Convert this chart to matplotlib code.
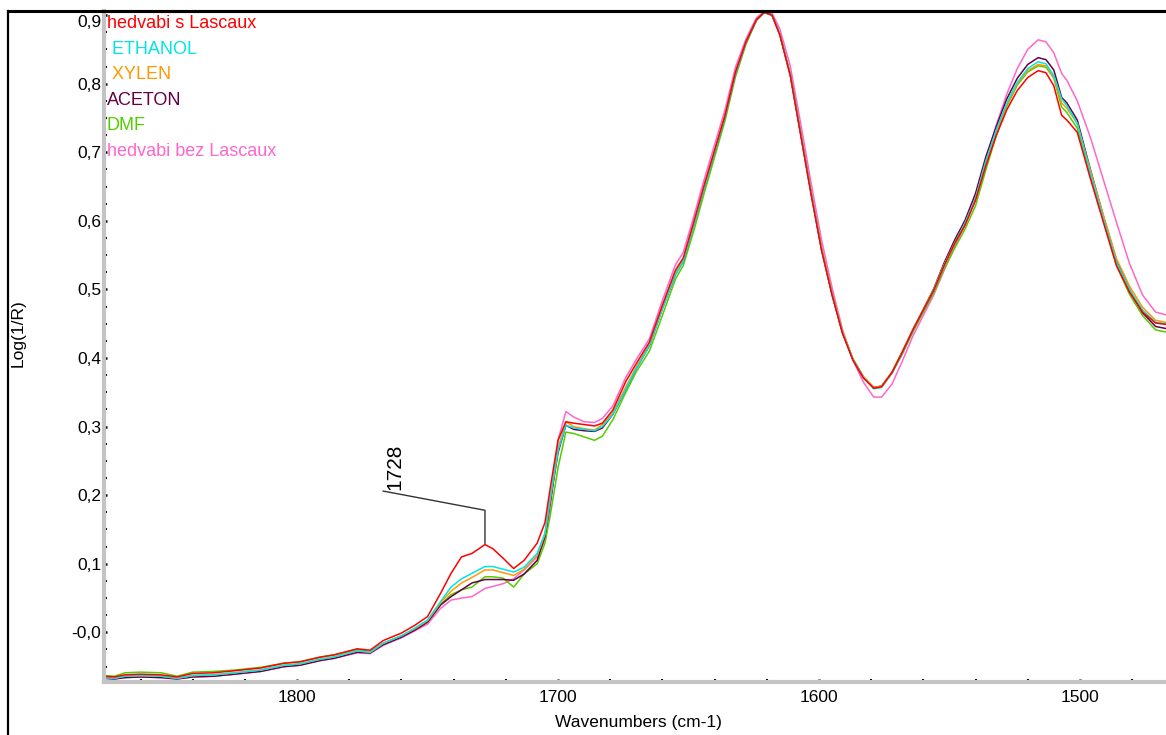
import matplotlib

matplotlib.use("Agg")
import matplotlib.pyplot as plt
from matplotlib.lines import Line2D
from matplotlib.ticker import FuncFormatter, MultipleLocator

plt.rcParams["font.family"] = ["Liberation Sans", "DejaVu Sans"]

# wavenumbers (cm-1), shared by all spectra
wavenumbers = [
    1874, 1870, 1866, 1860, 1852, 1846, 1840, 1832, 1824, 1814,
    1805, 1799, 1791, 1786, 1777, 1772, 1767, 1760, 1755, 1750,
    1745, 1741, 1737, 1733, 1728, 1725, 1721, 1717, 1713, 1708,
    1705, 1703, 1700, 1697, 1694, 1690, 1686, 1683, 1679, 1674,
    1670, 1665, 1660, 1655, 1652, 1648, 1644, 1640, 1636, 1632,
    1628, 1624, 1621, 1618, 1615, 1611, 1607, 1603, 1599, 1595,
    1591, 1587, 1583, 1579, 1576, 1572, 1568, 1564, 1560, 1556,
    1552, 1548, 1544, 1540, 1536, 1532, 1528, 1524, 1520, 1516,
    1513, 1510, 1507, 1505, 1501, 1496, 1491, 1486, 1481, 1476,
    1471, 1467,
]

hedvabi_s_lascaux = [
    -0.064, -0.065, -0.062, -0.061, -0.062, -0.065, -0.060, -0.059, -0.056, -0.052,
    -0.045, -0.043, -0.036, -0.033, -0.024, -0.026, -0.012, -0.001, 0.010, 0.023,
    0.057, 0.086, 0.110, 0.115, 0.128, 0.122, 0.108, 0.093, 0.105, 0.130,
    0.160, 0.210, 0.280, 0.307, 0.305, 0.303, 0.301, 0.305, 0.324, 0.366,
    0.392, 0.423, 0.477, 0.528, 0.546, 0.598, 0.652, 0.703, 0.754, 0.817,
    0.861, 0.893, 0.904, 0.900, 0.871, 0.812, 0.725, 0.638, 0.557, 0.492,
    0.436, 0.397, 0.371, 0.356, 0.358, 0.379, 0.409, 0.441, 0.470, 0.499,
    0.535, 0.567, 0.594, 0.630, 0.681, 0.725, 0.762, 0.790, 0.809, 0.819,
    0.816, 0.797, 0.754, 0.747, 0.729, 0.662, 0.598, 0.535, 0.496, 0.467,
    0.451, 0.449,
]

ethanol = [
    -0.066, -0.067, -0.064, -0.063, -0.064, -0.067, -0.063, -0.062, -0.059, -0.055,
    -0.048, -0.046, -0.039, -0.036, -0.027, -0.029, -0.016, -0.005, 0.006, 0.018,
    0.045, 0.066, 0.078, 0.086, 0.096, 0.096, 0.092, 0.088, 0.095, 0.115,
    0.145, 0.195, 0.265, 0.302, 0.298, 0.296, 0.294, 0.300, 0.318, 0.355,
    0.385, 0.418, 0.472, 0.522, 0.541, 0.594, 0.648, 0.700, 0.752, 0.815,
    0.860, 0.893, 0.904, 0.900, 0.872, 0.813, 0.727, 0.640, 0.558, 0.493,
    0.437, 0.398, 0.372, 0.355, 0.357, 0.378, 0.408, 0.440, 0.470, 0.500,
    0.536, 0.568, 0.597, 0.633, 0.688, 0.733, 0.772, 0.802, 0.822, 0.832,
    0.829, 0.812, 0.778, 0.768, 0.742, 0.670, 0.603, 0.540, 0.500, 0.470,
    0.452, 0.450,
]

xylen = [
    -0.066, -0.067, -0.064, -0.063, -0.064, -0.067, -0.063, -0.062, -0.059, -0.055,
    -0.048, -0.046, -0.039, -0.036, -0.027, -0.029, -0.016, -0.005, 0.005, 0.017,
    0.043, 0.060, 0.072, 0.080, 0.091, 0.091, 0.087, 0.083, 0.092, 0.112,
    0.143, 0.195, 0.268, 0.307, 0.300, 0.297, 0.295, 0.303, 0.320, 0.358,
    0.387, 0.419, 0.473, 0.524, 0.543, 0.595, 0.649, 0.701, 0.753, 0.816,
    0.860, 0.893, 0.904, 0.900, 0.872, 0.813, 0.727, 0.641, 0.560, 0.495,
    0.439, 0.399, 0.373, 0.357, 0.359, 0.380, 0.410, 0.442, 0.471, 0.500,
    0.536, 0.567, 0.596, 0.632, 0.686, 0.731, 0.770, 0.800, 0.819, 0.828,
    0.826, 0.810, 0.772, 0.764, 0.742, 0.674, 0.608, 0.545, 0.505, 0.474,
    0.455, 0.452,
]

aceton = [
    -0.067, -0.068, -0.066, -0.065, -0.066, -0.068, -0.065, -0.064, -0.061, -0.057,
    -0.050, -0.048, -0.041, -0.038, -0.029, -0.030, -0.018, -0.007, 0.003, 0.015,
    0.040, 0.052, 0.062, 0.072, 0.077, 0.077, 0.077, 0.076, 0.085, 0.105,
    0.140, 0.190, 0.262, 0.302, 0.296, 0.294, 0.293, 0.298, 0.318, 0.355,
    0.385, 0.418, 0.472, 0.522, 0.541, 0.594, 0.648, 0.700, 0.752, 0.815,
    0.860, 0.893, 0.904, 0.900, 0.872, 0.813, 0.727, 0.640, 0.558, 0.493,
    0.437, 0.398, 0.372, 0.357, 0.359, 0.379, 0.409, 0.441, 0.471, 0.501,
    0.539, 0.572, 0.601, 0.640, 0.694, 0.738, 0.778, 0.808, 0.828, 0.838,
    0.835, 0.820, 0.780, 0.772, 0.747, 0.675, 0.607, 0.543, 0.500, 0.466,
    0.446, 0.443,
]

dmf = [
    -0.063, -0.064, -0.059, -0.058, -0.059, -0.064, -0.058, -0.057, -0.055, -0.051,
    -0.045, -0.043, -0.036, -0.033, -0.025, -0.028, -0.016, -0.005, 0.004, 0.015,
    0.040, 0.055, 0.062, 0.066, 0.081, 0.081, 0.079, 0.066, 0.085, 0.100,
    0.130, 0.170, 0.240, 0.292, 0.290, 0.285, 0.280, 0.286, 0.310, 0.350,
    0.380, 0.410, 0.462, 0.515, 0.535, 0.585, 0.640, 0.693, 0.746, 0.810,
    0.857, 0.892, 0.904, 0.900, 0.872, 0.814, 0.728, 0.642, 0.560, 0.494,
    0.438, 0.399, 0.373, 0.357, 0.359, 0.378, 0.406, 0.438, 0.467, 0.495,
    0.530, 0.560, 0.588, 0.622, 0.675, 0.725, 0.767, 0.798, 0.817, 0.826,
    0.824, 0.808, 0.766, 0.758, 0.735, 0.668, 0.600, 0.535, 0.493, 0.462,
    0.441, 0.438,
]

hedvabi_bez_lascaux = [
    -0.067, -0.068, -0.066, -0.065, -0.066, -0.068, -0.065, -0.064, -0.061, -0.057,
    -0.050, -0.048, -0.041, -0.038, -0.030, -0.031, -0.019, -0.008, 0.002, 0.012,
    0.035, 0.047, 0.050, 0.052, 0.064, 0.067, 0.071, 0.078, 0.091, 0.110,
    0.135, 0.180, 0.280, 0.322, 0.314, 0.307, 0.306, 0.312, 0.330, 0.372,
    0.398, 0.428, 0.484, 0.536, 0.554, 0.606, 0.660, 0.711, 0.762, 0.824,
    0.865, 0.896, 0.905, 0.903, 0.880, 0.826, 0.742, 0.655, 0.572, 0.503,
    0.442, 0.397, 0.365, 0.343, 0.343, 0.362, 0.396, 0.432, 0.462, 0.492,
    0.528, 0.562, 0.594, 0.632, 0.690, 0.740, 0.785, 0.822, 0.850, 0.864,
    0.861, 0.845, 0.815, 0.805, 0.775, 0.722, 0.660, 0.598, 0.538, 0.492,
    0.467, 0.463,
]

series = [
    ("hedvabi bez Lascaux", hedvabi_bez_lascaux, "#ff66cc"),
    ("DMF", dmf, "#55cc00"),
    ("ACETON", aceton, "#660044"),
    ("XYLEN", xylen, "#ff9900"),
    ("ETHANOL", ethanol, "#00e5e5"),
    ("hedvabi s Lascaux", hedvabi_s_lascaux, "#ff0000"),
]

legend_entries = [
    ("hedvabi s Lascaux", "#ff0000"),
    (" ETHANOL", "#00e5e5"),
    (" XYLEN", "#ff9900"),
    ("ACETON", "#660044"),
    ("DMF", "#55cc00"),
    ("hedvabi bez Lascaux", "#ff66cc"),
]

W, H = 1166, 735
fig = plt.figure(figsize=(W / 100, H / 100), dpi=100)
ax = fig.add_axes([104 / W, 1 - 682 / H, 1 - 104 / W, (682 - 11) / H])

for name, values, color in series:
    ax.plot(wavenumbers, values, color=color, linewidth=1.1, label=name)

ax.set_xlim(1874, 1467)
ax.set_ylim(-0.0724, 0.906)

ax.xaxis.set_major_locator(MultipleLocator(100))
ax.xaxis.set_minor_locator(MultipleLocator(20))
ax.yaxis.set_major_locator(MultipleLocator(0.1))
ax.yaxis.set_minor_locator(MultipleLocator(0.025))


def comma_fmt(v, pos):
    if abs(v) < 1e-9:
        return "-0,0"
    return f"{v:.1f}".replace(".", ",")


ax.yaxis.set_major_formatter(FuncFormatter(comma_fmt))
ax.tick_params(which="both", direction="in", color="black", labelsize=12.5)
ax.tick_params(which="major", length=2.5, width=1.8)
ax.tick_params(which="minor", length=2.2, width=1.5)
ax.tick_params(axis="y", pad=2)
ax.tick_params(axis="x", pad=6)

for side in ("left", "bottom"):
    ax.spines[side].set_color("#c4c4c4")
    ax.spines[side].set_linewidth(3)
ax.spines["right"].set_visible(False)
ax.spines["top"].set_color("black")
ax.spines["top"].set_linewidth(2.2)

# outer frame of the report
fig.add_artist(Line2D([8 / W, 8 / W], [0, 1 - 11 / H], transform=fig.transFigure,
                      color="black", linewidth=1.6))
fig.add_artist(Line2D([8 / W, 1], [1 - 11 / H, 1 - 11 / H], transform=fig.transFigure,
                      color="black", linewidth=2.2))

fig.text(638 / W, 1 - 722 / H, "Wavenumbers (cm-1)", ha="center", va="center", fontsize=12.5)
fig.text(18 / W, 1 - 333 / H, "Log(1/R)", ha="center", va="center", rotation=90, fontsize=12.5)

# coloured legend entries
for i, (txt, color) in enumerate(legend_entries):
    fig.text(107 / W, 1 - (24 + 25.4 * i) / H, txt, color=color, ha="left", va="center",
             fontsize=13)

# peak annotation
peak_x = 1728
peak_y = hedvabi_s_lascaux[wavenumbers.index(peak_x)]
ax.plot([peak_x, peak_x, peak_x + 39], [peak_y + 0.002, peak_y + 0.05, peak_y + 0.078],
        color="#333333", linewidth=1.0)
ax.text(peak_x + 34.5, peak_y + 0.08, str(peak_x), rotation=90, ha="center", va="bottom",
        fontsize=15)

fig.canvas.draw()
# the top label sits a little lower in the original so it is not clipped
for lbl in ax.get_yticklabels():
    if lbl.get_text() == "0,9":
        lbl.set_va("top")

fig.savefig("out.png", dpi=100)
